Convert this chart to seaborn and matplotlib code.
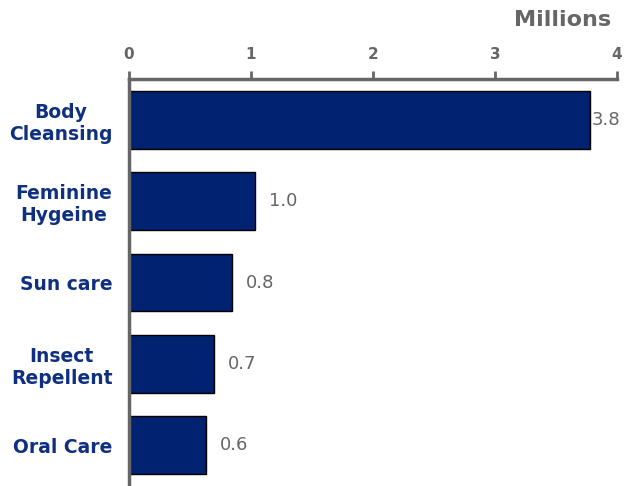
import matplotlib
matplotlib.use("Agg")
import matplotlib.pyplot as plt
import seaborn as sns
import pandas as pd

categories = ["Body\nCleansing", "Feminine\nHygeine", "Sun care", "Insect\nRepellent", "Oral Care"]
values = [3.78, 1.03, 0.845, 0.70, 0.63]
x_ticks = [0, 1, 2, 3, 4]

bar_color = "#002270"
label_color = "#0F2F80"
axis_gray = "#666666"

sns.set_theme(style="white")
plt.rcParams["font.family"] = ["DejaVu Sans"]

df = pd.DataFrame({"category": categories, "value": values})

fig = plt.figure(figsize=(6.24, 4.86), dpi=100)
ax = fig.add_axes([129 / 624, 0.0, (617 - 129) / 624, 1 - 79 / 486])

sns.barplot(data=df, x="value", y="category", orient="h", color=bar_color,
            saturation=1, width=0.71, edgecolor="black", linewidth=1.0, ax=ax)

ax.set_xlim(0, 4)
ax.set_ylim(4.5, -0.5)

# value axis on top
ax.xaxis.tick_top()
ax.set_xticks(x_ticks)
ax.set_xticklabels([str(t) for t in x_ticks], fontsize=11, fontweight="bold", color=axis_gray)
ax.tick_params(axis="x", direction="out", length=6, width=2, color=axis_gray, pad=6)
ax.set_xlabel("")
ax.set_ylabel("")

# category ticks at band boundaries
ax.set_yticks([i + 0.5 for i in range(len(categories))], minor=True)
ax.set_yticks(range(len(categories)))
ax.set_yticklabels(categories, fontsize=13.5, fontweight="bold", color=label_color,
                   multialignment="center", linespacing=1.2)
ax.tick_params(axis="y", which="major", length=0, pad=12)
ax.tick_params(axis="y", which="minor", direction="out", length=5, width=2, color=axis_gray)

for side in ["right", "bottom"]:
    ax.spines[side].set_visible(False)
for side in ["top", "left"]:
    ax.spines[side].set_color(axis_gray)
    ax.spines[side].set_linewidth(2.5)

for i, v in enumerate(values):
    off = 1 if v > 3.5 else 10
    ax.annotate(f"{v:.1f}", xy=(v, i), xytext=(off, 0), textcoords="offset points",
                ha="left", va="center", fontsize=13, color=axis_gray, annotation_clip=False)

fig.text(611 / 624, 1 - 20 / 486, "Millions", ha="right", va="center",
         fontsize=16, fontweight="bold", color=axis_gray)

fig.savefig("out.png", dpi=100)
